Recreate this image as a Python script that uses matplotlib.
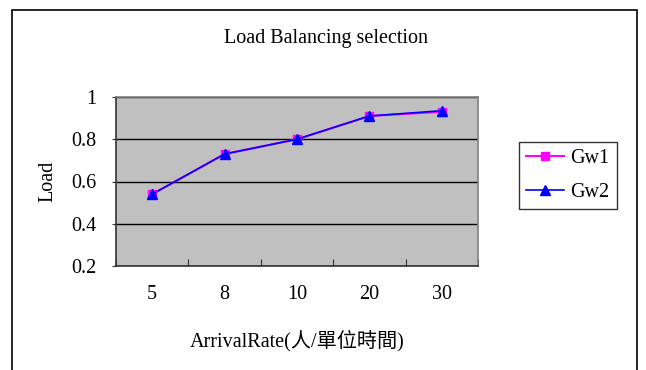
import matplotlib.pyplot as plt
from matplotlib.patches import Rectangle

# Data
categories = ['5', '8', '10', '20', '30']
gw1 = [0.54, 0.73, 0.80, 0.91, 0.93]
gw2 = [0.54, 0.73, 0.80, 0.91, 0.935]
y_ticks = [0.2, 0.4, 0.6, 0.8, 1.0]
y_tick_labels = ['0.2', '0.4', '0.6', '0.8', '1']

serif = ['Liberation Serif', 'Noto Sans CJK TC']
plt.rcParams['font.family'] = serif

fig = plt.figure(figsize=(6.46, 3.70), dpi=100)

# outer chart border (open at the bottom like the cropped original)
fig.patches.append(Rectangle((12 / 646, -0.1), 625 / 646, 1.1 - 10 / 370,
                             transform=fig.transFigure, fill=False,
                             edgecolor='black', linewidth=1.2))

ax = fig.add_axes([116 / 646, 104 / 370, 362 / 646, 169 / 370])
ax.set_facecolor('#c0c0c0')

x = list(range(len(categories)))
ax.plot(x, gw1, color='#ff00ff', marker='s', markersize=6, linewidth=1.5, label='Gw1')
ax.plot(x, gw2, color='#0000ff', marker='^', markersize=7, linewidth=1.2, label='Gw2')

ax.set_xlim(-0.5, len(categories) - 0.5)
ax.set_ylim(0.2, 1.0)

# category tick marks sit between the categories, labels at the centres
ax.set_xticks([i - 0.5 for i in range(len(categories) + 1)])
ax.set_xticklabels([])
ax.set_xticks(x, minor=True)
ax.set_xticklabels(categories, minor=True, fontsize=14.5)
ax.tick_params(axis='x', which='major', direction='in', length=5, color='#333333')
ax.tick_params(axis='x', which='minor', length=0, pad=14)

ax.set_yticks(y_ticks)
ax.set_yticklabels(y_tick_labels, fontsize=14.5)
ax.tick_params(axis='y', direction='out', length=3, pad=11, color='#333333')

ax.grid(axis='y', color='black', linewidth=1)
ax.set_axisbelow(True)

for side in ['left', 'bottom']:
    ax.spines[side].set_color('#333333')
    ax.spines[side].set_linewidth(1.2)
for side in ['top', 'right']:
    ax.spines[side].set_color('#808080')
    ax.spines[side].set_linewidth(1.2)

fig.text(326 / 646, 1 - 38 / 370, 'Load Balancing selection', ha='center', va='center', fontsize=14.5)
ax.set_xlabel('ArrivalRate(人/單位時間)', fontsize=14.5, labelpad=18, family=serif)
ax.set_ylabel('Load', fontsize=14.5, labelpad=10)

leg = ax.legend(loc='upper left', bbox_to_anchor=(519 / 646, 1 - 142 / 370),
                bbox_transform=fig.transFigure,
                fontsize=14.5, frameon=True, fancybox=False, handlelength=1.9,
                borderpad=0.35, labelspacing=0.75, handletextpad=0.3, borderaxespad=0)
leg.get_frame().set_edgecolor('black')
leg.get_frame().set_linewidth(1)

fig.savefig('out.png', dpi=100)
